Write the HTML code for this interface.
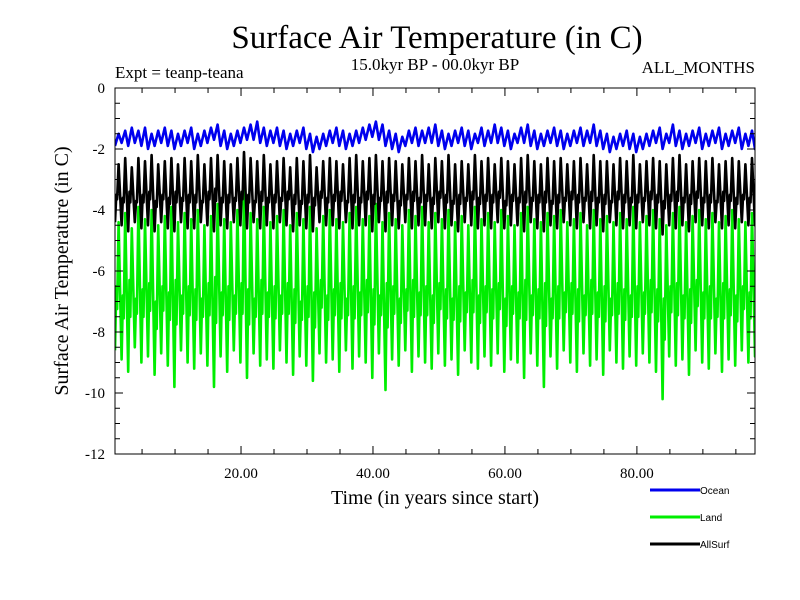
<!DOCTYPE html>
<html><head><meta charset="utf-8"><style>
html,body{margin:0;padding:0;background:#fff;}
svg{display:block;}
.serif{font-family:"Liberation Serif",serif;}
.sans{font-family:"Liberation Sans",sans-serif;}
</style></head><body>
<svg id="chart" width="800" height="600" viewBox="0 0 800 600" xmlns="http://www.w3.org/2000/svg">
<rect width="800" height="600" fill="#fff"/>
<text class="serif" x="437" y="48" font-size="33" text-anchor="middle">Surface Air Temperature (in C)</text>
<text class="serif" x="115" y="78" font-size="17">Expt = teanp-teana</text>
<text class="serif" x="435" y="70" font-size="17" text-anchor="middle">15.0kyr BP - 00.0kyr BP</text>
<text class="serif" x="755" y="73" font-size="17" text-anchor="end">ALL_MONTHS</text>
<text class="serif" x="435" y="504" font-size="20" text-anchor="middle">Time (in years since start)</text>
<text class="serif" transform="translate(68,271) rotate(-90)" font-size="20" text-anchor="middle">Surface Air Temperature (in C)</text>
<g id="series"></g>
<g id="axes"></g>
<g id="legend"></g>
</svg>
<script>
const xTicks=[20,40,60,80];
const xTickLabels=["20.00","40.00","60.00","80.00"];
const yTicks=[0,-2,-4,-6,-8,-10,-12];
const yTickLabels=["0","-2","-4","-6","-8","-10","-12"];
const seriesNames=["Ocean","Land","AllSurf"];
const oceanHi=[-1.5,-1.4,-1.3,-1.4,-1.3,-1.5,-1.4,-1.3,-1.4,-1.5,-1.4,-1.3,-1.5,-1.4,-1.3,-1.2,-1.4,-1.5,-1.4,-1.3,-1.2,-1.1,-1.3,-1.4,-1.3,-1.4,-1.5,-1.4,-1.3,-1.5,-1.6,-1.5,-1.4,-1.3,-1.4,-1.5,-1.4,-1.3,-1.2,-1.1,-1.2,-1.4,-1.5,-1.6,-1.4,-1.3,-1.4,-1.3,-1.2,-1.4,-1.5,-1.4,-1.3,-1.4,-1.5,-1.3,-1.4,-1.2,-1.3,-1.4,-1.5,-1.3,-1.2,-1.4,-1.5,-1.4,-1.3,-1.4,-1.5,-1.4,-1.3,-1.4,-1.2,-1.4,-1.5,-1.6,-1.5,-1.4,-1.5,-1.6,-1.5,-1.4,-1.3,-1.5,-1.2,-1.4,-1.5,-1.4,-1.3,-1.5,-1.4,-1.3,-1.5,-1.4,-1.3,-1.5,-1.4,-1.6];
const oceanLo=[-1.9,-1.8,-1.9,-1.8,-1.9,-2.0,-1.9,-1.8,-1.9,-2.0,-1.9,-1.8,-2.0,-1.9,-1.8,-1.7,-1.9,-2.0,-1.9,-1.8,-1.7,-1.7,-1.8,-1.9,-1.8,-1.9,-2.0,-1.9,-1.8,-2.0,-2.1,-2.0,-1.9,-1.8,-1.9,-2.0,-1.9,-1.8,-1.7,-1.6,-1.7,-1.9,-2.0,-2.1,-1.9,-1.8,-1.9,-1.8,-1.8,-1.9,-2.0,-1.9,-1.8,-1.9,-2.0,-1.8,-1.9,-1.8,-1.8,-1.9,-2.0,-1.8,-1.8,-1.9,-2.0,-1.9,-1.8,-1.9,-2.0,-1.9,-1.8,-1.9,-1.8,-1.9,-2.0,-2.1,-2.0,-1.9,-2.0,-2.1,-2.0,-1.9,-1.8,-2.0,-1.8,-1.9,-2.0,-1.9,-1.8,-2.0,-1.9,-1.8,-2.0,-1.9,-1.8,-2.0,-1.9,-2.0];
const landHi=[-4.4,-4.1,-4.6,-3.9,-4.3,-4.0,-4.5,-4.2,-3.9,-4.4,-4.1,-4.3,-4.0,-4.5,-4.2,-3.8,-4.3,-4.4,-4.0,-3.2,-4.1,-4.3,-3.9,-4.4,-4.2,-4.0,-4.5,-4.1,-4.3,-3.9,-4.6,-4.2,-4.0,-4.3,-4.4,-4.1,-3.9,-4.3,-4.2,-3.8,-4.4,-4.1,-4.3,-4.5,-4.0,-4.2,-3.9,-4.4,-4.1,-4.3,-4.0,-4.4,-4.2,-4.5,-3.9,-4.3,-4.1,-4.4,-4.0,-4.2,-4.5,-4.1,-3.9,-4.3,-4.4,-4.1,-4.2,-4.0,-4.4,-4.3,-4.1,-4.5,-4.0,-4.3,-4.2,-4.4,-4.1,-4.3,-3.9,-4.4,-4.2,-4.0,-4.3,-4.5,-4.1,-3.9,-4.4,-4.2,-4.0,-4.3,-4.1,-4.4,-4.2,-4.0,-4.3,-4.4,-4.1,-4.5];
const landMid=[-6.5,-6.8,-6.3,-6.9,-6.6,-6.4,-7.0,-6.5,-6.7,-6.3,-6.8,-6.5,-6.6,-6.9,-6.4,-6.2,-6.7,-6.5,-6.8,-6.4,-6.6,-6.9,-6.3,-6.7,-6.5,-6.8,-6.4,-6.6,-7.0,-6.5,-6.7,-6.3,-6.8,-6.6,-6.4,-6.9,-6.5,-6.7,-6.3,-6.6,-6.8,-6.4,-6.5,-6.9,-6.6,-6.3,-6.7,-6.5,-6.8,-6.4,-6.6,-6.9,-6.5,-6.7,-6.3,-6.8,-6.5,-6.6,-6.4,-6.9,-6.5,-6.7,-6.3,-6.8,-6.6,-6.4,-6.9,-6.5,-6.7,-6.4,-6.6,-6.8,-6.3,-6.7,-6.5,-6.9,-6.4,-6.6,-6.8,-6.5,-6.7,-6.3,-6.6,-6.9,-6.5,-6.4,-6.8,-6.6,-6.3,-6.7,-6.5,-6.9,-6.4,-6.6,-6.8,-6.5,-6.7,-6.4];
const landLo=[-8.6,-8.9,-9.3,-8.5,-9.0,-8.8,-9.4,-8.7,-9.1,-9.8,-8.6,-9.0,-9.2,-8.7,-9.1,-9.8,-8.8,-9.3,-8.6,-9.0,-9.5,-8.7,-9.1,-8.9,-9.2,-8.6,-9.0,-9.4,-8.8,-9.1,-9.6,-8.7,-9.0,-8.9,-9.3,-8.6,-9.2,-8.8,-9.0,-9.5,-8.7,-9.9,-8.9,-9.1,-8.6,-9.3,-8.8,-9.0,-9.2,-8.7,-9.1,-8.9,-9.4,-8.6,-9.0,-9.2,-8.8,-9.1,-8.7,-9.3,-8.9,-9.0,-9.5,-8.7,-9.1,-9.8,-8.8,-9.2,-8.6,-9.0,-9.3,-8.7,-9.1,-8.9,-9.4,-8.6,-9.0,-9.2,-8.8,-9.1,-8.7,-9.0,-9.3,-10.2,-8.8,-9.1,-8.9,-9.4,-8.6,-9.0,-9.2,-8.7,-9.3,-8.9,-9.1,-8.6,-9.0,-8.8];
const allHi=[-2.5,-2.3,-2.6,-2.3,-2.4,-2.2,-2.5,-2.4,-2.3,-2.5,-2.3,-2.4,-2.2,-2.5,-2.3,-2.2,-2.4,-2.5,-2.3,-2.1,-2.3,-2.4,-2.2,-2.5,-2.4,-2.3,-2.6,-2.3,-2.4,-2.2,-2.6,-2.4,-2.3,-2.4,-2.5,-2.3,-2.2,-2.4,-2.3,-2.2,-2.4,-2.3,-2.4,-2.5,-2.3,-2.4,-2.2,-2.5,-2.3,-2.4,-2.2,-2.5,-2.4,-2.5,-2.2,-2.4,-2.3,-2.5,-2.3,-2.4,-2.5,-2.3,-2.2,-2.4,-2.5,-2.3,-2.4,-2.3,-2.5,-2.4,-2.3,-2.5,-2.2,-2.4,-2.4,-2.5,-2.3,-2.4,-2.2,-2.5,-2.4,-2.3,-2.4,-2.5,-2.3,-2.2,-2.5,-2.4,-2.3,-2.4,-2.3,-2.5,-2.4,-2.3,-2.4,-2.5,-2.3,-2.6];
const allMid=[-3.5,-3.6,-3.4,-3.7,-3.5,-3.4,-3.7,-3.5,-3.6,-3.4,-3.6,-3.5,-3.5,-3.7,-3.4,-3.3,-3.6,-3.5,-3.6,-3.4,-3.5,-3.7,-3.4,-3.6,-3.5,-3.6,-3.4,-3.5,-3.7,-3.5,-3.6,-3.4,-3.6,-3.5,-3.4,-3.7,-3.5,-3.6,-3.4,-3.5,-3.6,-3.4,-3.5,-3.7,-3.5,-3.4,-3.6,-3.5,-3.6,-3.4,-3.5,-3.7,-3.5,-3.6,-3.4,-3.6,-3.5,-3.5,-3.4,-3.7,-3.5,-3.6,-3.4,-3.6,-3.5,-3.4,-3.7,-3.5,-3.6,-3.4,-3.5,-3.6,-3.4,-3.6,-3.5,-3.7,-3.4,-3.5,-3.6,-3.5,-3.6,-3.4,-3.5,-3.7,-3.5,-3.4,-3.6,-3.5,-3.4,-3.6,-3.5,-3.7,-3.4,-3.5,-3.6,-3.5,-3.6,-3.4];
const allLo=[-4.4,-4.5,-4.7,-4.4,-4.6,-4.5,-4.7,-4.4,-4.6,-4.7,-4.4,-4.6,-4.6,-4.4,-4.5,-4.7,-4.5,-4.6,-4.4,-4.5,-4.6,-4.4,-4.6,-4.5,-4.6,-4.4,-4.5,-4.7,-4.5,-4.6,-4.7,-4.4,-4.5,-4.5,-4.6,-4.4,-4.6,-4.5,-4.5,-4.7,-4.4,-4.7,-4.5,-4.6,-4.4,-4.6,-4.5,-4.5,-4.6,-4.4,-4.6,-4.5,-4.7,-4.4,-4.5,-4.6,-4.5,-4.6,-4.4,-4.6,-4.5,-4.5,-4.7,-4.4,-4.6,-4.7,-4.5,-4.6,-4.4,-4.5,-4.6,-4.4,-4.6,-4.5,-4.7,-4.4,-4.5,-4.6,-4.5,-4.6,-4.4,-4.5,-4.6,-4.8,-4.5,-4.6,-4.5,-4.7,-4.4,-4.5,-4.6,-4.4,-4.6,-4.5,-4.6,-4.4,-4.5,-4.5];

const NS="http://www.w3.org/2000/svg";
const L=115,R=755,T=88,B=454;
const xMin=0.9,xMax=97.9,yMin=-12,yMax=0;
function xs(v){return L+(v-xMin)/(xMax-xMin)*(R-L);}
function ys(v){return T+(yMax-v)/(yMax-yMin)*(B-T);}
function mk(tag,attrs,parent){const e=document.createElementNS(NS,tag);for(const k in attrs)e.setAttribute(k,attrs[k]);parent.appendChild(e);return e;}

const defs=mk('defs',{},document.getElementById('chart'));
const cp=mk('clipPath',{id:'plotclip'},defs);
mk('rect',{x:L,y:T,width:R-L,height:B-T},cp);

const sg=document.getElementById('series');
function drawSeries(hi,mid,lo,color,name){
  let pts=[];
  for(let i=0;i<hi.length;i++){
    const yr=i+1;
    pts.push(xs(yr-0.1).toFixed(1)+','+ys(lo[i]).toFixed(1));
    if(mid){
      pts.push(xs(yr+0.1).toFixed(1)+','+ys(mid[i]).toFixed(1));
      pts.push(xs(yr+0.22).toFixed(1)+','+ys((mid[i]+lo[i])/2+0.3).toFixed(1));
    }
    pts.push(xs(yr+0.45).toFixed(1)+','+ys(hi[i]).toFixed(1));
  }
  const p=mk('polyline',{points:pts.join(' '),fill:'none',stroke:color,'stroke-width':2.6,'stroke-linejoin':'round','clip-path':'url(#plotclip)'},sg);
  
  
}
drawSeries(landHi,landMid,landLo,'#00ee00','land-series');
drawSeries(allHi,allMid,allLo,'#000000','allsurf-series');
drawSeries(oceanHi,null,oceanLo,'#0000ee','ocean-series');

const ax=document.getElementById('axes');
const frame=mk('rect',{x:L,y:T,width:R-L,height:B-T,fill:'none',stroke:'#000','stroke-width':1},ax);


for(let v=5;v<xMax;v+=5){
  const x=xs(v),len=(v%20===0)?8:5;
  mk('line',{x1:x,y1:B,x2:x,y2:B-len,stroke:'#000'},ax);
  mk('line',{x1:x,y1:T,x2:x,y2:T+len,stroke:'#000'},ax);
}
for(let v=0;v>=-12;v-=0.5){
  const y=ys(v),len=(v%2===0)?8:5;
  mk('line',{x1:L,y1:y,x2:L+len,y2:y,stroke:'#000'},ax);
  mk('line',{x1:R,y1:y,x2:R-len,y2:y,stroke:'#000'},ax);
}
xTicks.forEach((v,i)=>{
  const t=mk('text',{x:xs(v),y:478,'font-size':15,'text-anchor':'middle',class:'serif'},ax);
  t.textContent=xTickLabels[i];
  
  
});
yTicks.forEach((v,i)=>{
  const t=mk('text',{x:105,y:ys(v)+5,'font-size':15,'text-anchor':'end',class:'serif'},ax);
  t.textContent=yTickLabels[i];
  
  
});

const lg=document.getElementById('legend');
const lcolors=['#0000ee','#00ee00','#000000'];
seriesNames.forEach((n,i)=>{
  const y=490+i*27;
  const g=mk('g',{},lg);
  
  
  mk('line',{x1:650,y1:y,x2:700,y2:y,stroke:lcolors[i],'stroke-width':3},g);
  const t=mk('text',{x:700,y:y+4,'font-size':10,class:'sans'},g);
  t.textContent=n;
});
</script>
</body></html>
